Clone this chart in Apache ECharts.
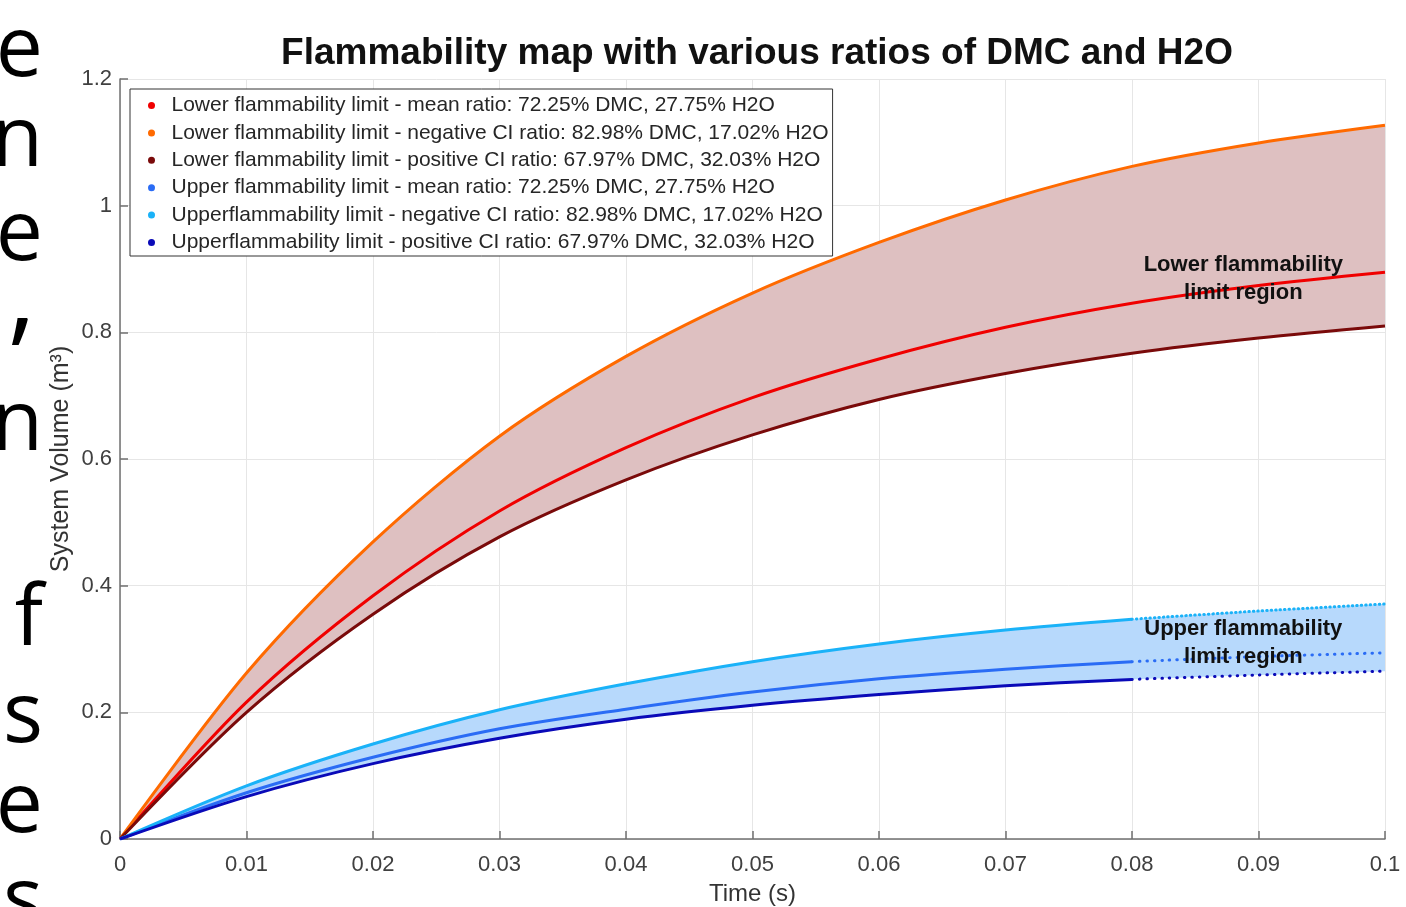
<!DOCTYPE html>
<html>
<head>
<meta charset="utf-8">
<script src="https://cdn.jsdelivr.net/npm/echarts@6/dist/echarts.min.js"></script>
<style>
    html, body { margin: 0; padding: 0; background: #fff; }
    #chart { width: 1406px; height: 907px; }
</style>
</head>
<body>
<div id="chart"></div>
<script>
// time steps (s) - also the x tick labels
var times = ['0', '0.01', '0.02', '0.03', '0.04', '0.05', '0.06', '0.07', '0.08', '0.09', '0.1'];

// system volume (m3)
var lflMean   = [0, 0.216, 0.384, 0.518, 0.618, 0.697, 0.758, 0.808, 0.846, 0.874, 0.895];
var lflNegCI  = [0, 0.262, 0.469, 0.636, 0.762, 0.862, 0.942, 1.009, 1.062, 1.099, 1.127];
var lflPosCI  = [0, 0.200, 0.355, 0.477, 0.567, 0.638, 0.694, 0.735, 0.767, 0.791, 0.810];
var uflMean   = [0, 0.073, 0.129, 0.174, 0.205, 0.232, 0.253, 0.268, 0.280, 0.288, 0.294];
var uflNegCI  = [0, 0.084, 0.150, 0.204, 0.245, 0.280, 0.308, 0.330, 0.347, 0.360, 0.371];
var uflPosCI  = [0, 0.067, 0.119, 0.159, 0.189, 0.211, 0.228, 0.242, 0.252, 0.259, 0.265];

var names = [
    'Lower flammability limit - mean ratio: 72.25% DMC, 27.75% H2O',
    'Lower flammability limit - negative CI ratio: 82.98% DMC, 17.02% H2O',
    'Lower flammability limit - positive CI ratio: 67.97% DMC, 32.03% H2O',
    'Upper flammability limit - mean ratio: 72.25% DMC, 27.75% H2O',
    'Upperflammability limit - negative CI ratio: 82.98% DMC, 17.02% H2O',
    'Upperflammability limit - positive CI ratio: 67.97% DMC, 32.03% H2O'
];
var colors = ['#f00000', '#ff6a00', '#7a0a0a', '#2a6cf5', '#1ab2f8', '#0a0ab8'];
// sparse sample points at the end of the UFL curves show up as dots
var dotFrom = [null, null, null, 8, 8, 8];
var dotGap = [0, 0, 0, 7, 4, 7];

// cropped page text on the left edge (glyph, vertical centre)
var sideGlyphs = ['e', 'n', 'e', ',', 'n', 'f', 's', 'e', 's'];
var sideGlyphY = [52, 142, 236, 300, 426, 621, 718, 808, 903];

var FONT = '"Liberation Sans", Arial, sans-serif';

function diff(a, b) {
    return a.map(function (v, i) { return +(v - b[i]).toFixed(4); });
}

var chart = echarts.init(document.getElementById('chart'));

var lines = [];
[lflMean, lflNegCI, lflPosCI, uflMean, uflNegCI, uflPosCI].forEach(function (ys, i) {
    var cut = dotFrom[i];
    lines.push({
        name: names[i],
        type: 'line',
        data: cut == null ? ys : ys.map(function (v, k) { return k <= cut ? v : null; }),
        smooth: 0.3,
        showSymbol: false,
        color: colors[i],
        lineStyle: { width: 3, color: colors[i] },
        z: 3
    });
    if (cut != null) {
        lines.push({
            type: 'line',
            data: ys.map(function (v, k) { return k >= cut ? v : null; }),
            smooth: 0.3,
            showSymbol: false,
            color: colors[i],
            lineStyle: { width: 3, color: colors[i], type: [0.5, dotGap[i]], cap: 'round' },
            z: 3
        });
    }
});

// shaded bands: base + stacked difference
function band(stack, lower, upper, fill) {
    return [{
        type: 'line', stack: stack, data: lower, smooth: 0.3,
        showSymbol: false, lineStyle: { opacity: 0 }, silent: true, z: 1
    }, {
        type: 'line', stack: stack, data: diff(upper, lower), smooth: 0.3,
        showSymbol: false, lineStyle: { opacity: 0 }, silent: true, z: 1,
        areaStyle: { color: fill, opacity: 1 }
    }];
}

var option = {
    animation: false,
    backgroundColor: '#fff',
    title: {
        text: 'Flammability map with various ratios of DMC and H2O',
        left: 752,
        textAlign: 'center',
        top: 30,
        textStyle: { fontFamily: FONT, fontSize: 37, fontWeight: 'bold', color: '#111' }
    },
    grid: { left: 120, right: 21, top: 79, bottom: 68, containLabel: false, outerBoundsMode: 'none' },
    legend: {
        orient: 'vertical',
        left: 130,
        top: 89,
        data: names,
        icon: 'circle',
        itemWidth: 30,
        itemHeight: 7,
        itemGap: 6.4,
        padding: [6, 4, 3, 18],
        borderColor: '#333',
        borderWidth: 1,
        backgroundColor: '#fff',
        selectedMode: false,
        textStyle: { fontFamily: FONT, fontSize: 21, lineHeight: 21, color: '#262626' }
    },
    xAxis: {
        type: 'category',
        data: times,
        boundaryGap: false,
        name: 'Time (s)',
        nameLocation: 'middle',
        nameGap: 43,
        nameTextStyle: { fontFamily: FONT, fontSize: 24, color: '#333' },
        axisLine: { lineStyle: { color: '#707070', width: 1.5 } },
        axisTick: { inside: true, length: 8, interval: 0, lineStyle: { color: '#707070', width: 1.5 } },
        axisLabel: { margin: 15, interval: 0, fontFamily: FONT, fontSize: 22, color: '#404040' },
        splitLine: { show: true, interval: 0, lineStyle: { color: '#e6e6e6', width: 1 } }
    },
    yAxis: {
        type: 'value',
        min: 0,
        max: 1.2,
        interval: 0.2,
        name: 'System Volume (m³)',
        nameLocation: 'middle',
        nameGap: 46,
        nameMoveOverlap: false,
        nameTextStyle: { fontFamily: FONT, fontSize: 25, color: '#333' },
        axisLine: { show: true, lineStyle: { color: '#707070', width: 1.5 } },
        axisTick: { show: true, inside: true, length: 8, lineStyle: { color: '#707070', width: 1.5 } },
        axisLabel: { margin: 8, fontFamily: FONT, fontSize: 22, color: '#404040' },
        splitLine: { lineStyle: { color: '#e6e6e6', width: 1 } }
    },
    series: band('lfl', lflPosCI, lflNegCI, '#dec0c1')
        .concat(band('ufl', uflPosCI, uflNegCI, '#b7d9fc'))
        .concat(lines)
};

chart.setOption(option);

// region labels placed in data space (between the 0.08 and 0.09 ticks)
function at(idx, v) {
    var a = chart.convertToPixel({ gridIndex: 0 }, [Math.floor(idx), v]);
    var b = chart.convertToPixel({ gridIndex: 0 }, [Math.floor(idx) + 1, v]);
    var f = idx - Math.floor(idx);
    return [a[0] + (b[0] - a[0]) * f, a[1]];
}
function regionText(pos, txt) {
    return {
        type: 'text', x: pos[0], y: pos[1], z: 10,
        style: {
            text: txt, align: 'center', verticalAlign: 'top', lineHeight: 28,
            font: 'bold 22px ' + FONT, fill: '#111'
        }
    };
}

var graphics = [
    regionText(at(8.88, 0.929), 'Lower flammability\nlimit region'),
    regionText(at(8.88, 0.353), 'Upper flammability\nlimit region')
];
sideGlyphs.forEach(function (g, i) {
    graphics.push({
        type: 'text', x: g === ',' ? 36 : 43, y: sideGlyphY[i], z: 10,
        style: {
            text: g, align: 'right', verticalAlign: 'middle',
            font: (g === ',' ? '110px' : '84px') + ' "Open Sans", "Noto Sans", sans-serif', fill: '#000'
        }
    });
});
chart.setOption({ graphic: graphics });
</script>
</body>
</html>
